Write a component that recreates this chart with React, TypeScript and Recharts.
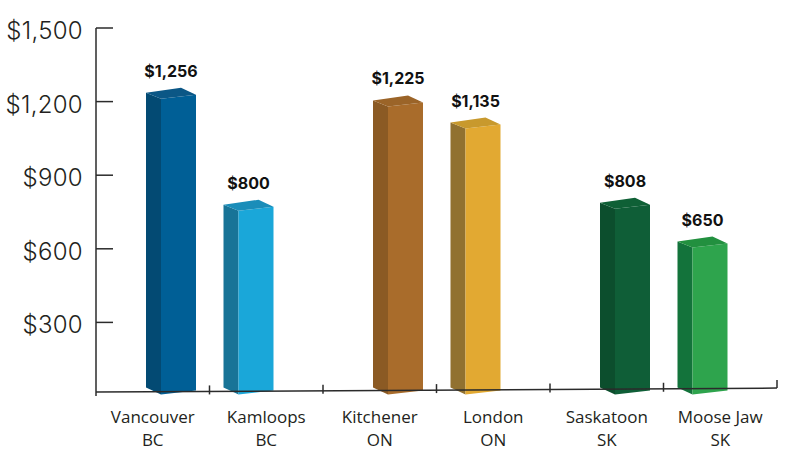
import React from 'react';
import { BarChart, Bar, XAxis, YAxis, ReferenceLine } from 'recharts';

const cities = ['Vancouver', 'Kamloops', 'Kitchener', 'London', 'Saskatoon', 'Moose Jaw'];
const provinces = ['BC', 'BC', 'ON', 'ON', 'SK', 'SK'];
const rents = [1256, 800, 1225, 1135, 808, 650];
const yTicks = [300, 600, 900, 1200, 1500];

const data = cities.map((city, i) => ({ city, province: provinces[i], rent: rents[i] }));

const COLORS = [
  { front: '#005f96', side: '#034a73', top: '#0b5786' },
  { front: '#1aa7d9', side: '#187497', top: '#1a8db9' },
  { front: '#a96c2b', side: '#8b5a24', top: '#9b6428' },
  { front: '#e2a932', side: '#917130', top: '#c8992d' },
  { front: '#0f5e37', side: '#0c4e2d', top: '#0f6036' },
  { front: '#2ea44d', side: '#13733b', top: '#22903f' },
];

const TEXT = '#231f20';
const AXIS = '#2b2b2b';

const Bar3D = (props: any) => {
  const { x, y, width, height, index, payload } = props;
  const c = COLORS[index % COLORS.length];
  const shift = index % 2 === 0 ? 18 : -18;
  const x0 = x + width / 2 - 25 + shift;
  const h = y;
  const b = y + height;
  const top = `${x0},${h + 5} ${x0 + 35},${h} ${x0 + 50},${h + 7} ${x0 + 15},${h + 11}`;
  const side = `${x0},${h + 5} ${x0 + 15},${h + 11} ${x0 + 15},${b - 1.5} ${x0},${b - 8.5}`;
  const front = `${x0 + 15},${h + 11} ${x0 + 50},${h + 7} ${x0 + 50},${b - 5.5} ${x0 + 15},${b - 1.5}`;
  return (
    <g>
      <polygon points={side} fill={c.side} />
      <polygon points={front} fill={c.front} />
      <polygon points={top} fill={c.top} />
      <text
        x={x0 + 25}
        y={h - 11}
        textAnchor="middle"
        fontFamily="Inter, 'Open Sans', sans-serif"
        fontWeight={700}
        fontSize={16}
        fill="#111"
      >
        {'$' + payload.rent.toLocaleString('en-US')}
      </text>
    </g>
  );
};

const YTick = (props: any) => {
  const { x, y, payload } = props;
  return (
    <g>
      <line x1={x + 13} x2={x + 30} y1={y} y2={y} stroke={AXIS} strokeWidth={1.5} />
      <text
        x={x}
        y={y + 11}
        textAnchor="end"
        fontFamily="Inter, sans-serif"
        fontWeight={300}
        fontSize={24}
        letterSpacing={0.3}
        fill={TEXT}
      >
        {'$' + Number(payload.value).toLocaleString('en-US')}
      </text>
    </g>
  );
};

const XTick = (props: any) => {
  const { x, y, payload, index } = props;
  const prov = provinces[index] ?? '';
  return (
    <g>
      <text x={x} y={y + 19} textAnchor="middle" fontFamily="'Open Sans', sans-serif" fontSize={17} fill={TEXT}>
        {payload.value}
      </text>
      <text x={x} y={y + 42} textAnchor="middle" fontFamily="'Open Sans', sans-serif" fontSize={17} fill={TEXT}>
        {prov}
      </text>
    </g>
  );
};

const BaseLine = (props: any) => {
  const { x1, y1, x2 } = props;
  const yl = (t: number) => y1 + 1 - 4 * t;
  const n = cities.length;
  const ticks = [];
  for (let i = 1; i < n; i++) {
    const t = i / n;
    const xx = x1 + (x2 - x1) * t;
    ticks.push(<line key={i} x1={xx} x2={xx} y1={yl(t) - 6} y2={yl(t) + 3} stroke={AXIS} strokeWidth={1.5} />);
  }
  return (
    <g>
      <line x1={x1} y1={yl(0)} x2={x2} y2={yl(1)} stroke={AXIS} strokeWidth={1.5} />
      {ticks}
      <line x1={x2} x2={x2} y1={yl(1)} y2={yl(1) - 8} stroke={AXIS} strokeWidth={1.5} />
    </g>
  );
};

export default function App() {
  return (
    <div style={{ position: 'absolute', left: 0, top: 0, background: '#fff' }}>
      <BarChart
        width={800}
        height={461}
        data={data}
        margin={{ top: 28, right: 23, bottom: 10, left: 10 }}
      >
        <YAxis
          width={86}
          domain={[0, 1500]}
          ticks={yTicks}
          interval={0}
          axisLine={{ stroke: AXIS, strokeWidth: 1.5 }}
          tickLine={false}
          tickMargin={7}
          tick={<YTick />}
        />
        <XAxis
          dataKey="city"
          height={55}
          axisLine={false}
          tickLine={false}
          interval={0}
          tick={<XTick />}
        />
        <ReferenceLine y={20} shape={<BaseLine />} />
        <Bar dataKey="rent" barSize={50} shape={<Bar3D />} isAnimationActive={false} />
      </BarChart>
    </div>
  );
}
